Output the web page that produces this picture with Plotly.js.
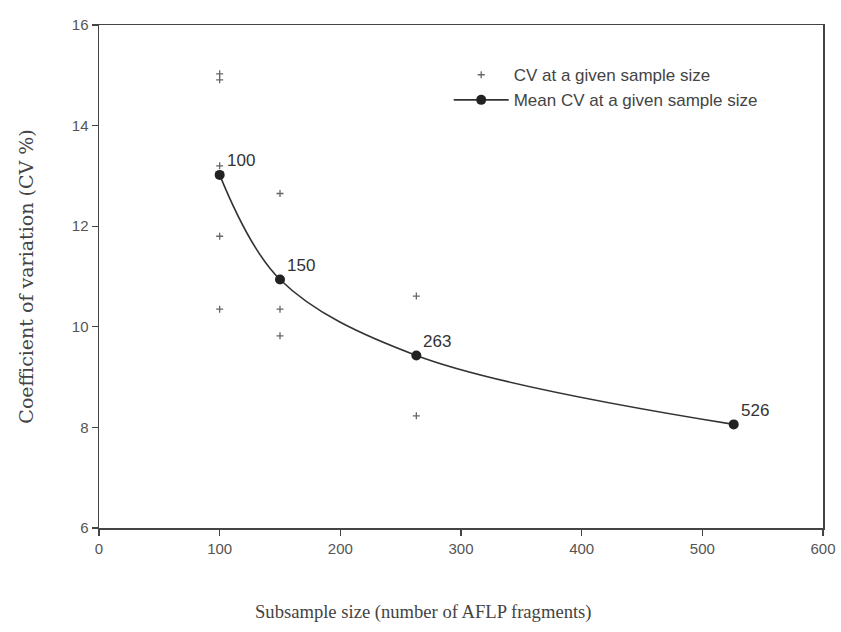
<!DOCTYPE html>
<html>
<head>
<meta charset="utf-8">
<script src="https://cdn.plot.ly/plotly-3.0.1.min.js"></script>
<style>html,body{margin:0;padding:0;background:#fff;}#chart{width:841px;height:632px;}</style>
</head>
<body>
<div id="chart"></div>
<script>
// Individual CV values at each subsample size
const cvX = [100, 100, 100, 100, 100, 150, 150, 150, 263, 263, 526];
const cvY = [15.03, 14.91, 13.2, 11.8, 10.35, 12.65, 10.35, 9.82, 10.61, 8.23, 8.05];
// Mean CV at each subsample size
const meanX = [100, 150, 263, 526];
const meanY = [13.02, 10.94, 9.43, 8.06];
const meanLabels = ["100", "150", "263", "526"];
const xTicks = [0, 100, 200, 300, 400, 500, 600];
const yTicks = [6, 8, 10, 12, 14, 16];
const xTitle = 'Subsample size (number of AFLP fragments)';
const yTitle = 'Coefficient of variation (CV %)';

const traces = [
  {
    x: cvX, y: cvY, type: 'scatter', mode: 'markers',
    name: 'CV at a given sample size',
    marker: {symbol: 'cross-thin', size: 5, color: '#666', line: {color: '#666', width: 1.3}}
  },
  {
    x: meanX, y: meanY, type: 'scatter', mode: 'lines+markers',
    name: 'Mean CV at a given sample size',
    line: {shape: 'spline', smoothing: 1, color: '#333', width: 1.6},
    marker: {symbol: 'circle', size: 10, color: '#222'}
  }
];

const annotations = meanX.map((x, i) => ({
  x: x, y: meanY[i], xref: 'x', yref: 'y', text: meanLabels[i],
  showarrow: false, xanchor: 'left', yanchor: 'middle', xshift: 5, yshift: 14,
  font: {family: 'Liberation Sans, Arial, sans-serif', size: 17, color: '#333'}
}));
annotations.push({
  x: (423 - 99) / 724, y: -84 / 503, xref: 'paper', yref: 'paper',
  text: xTitle, showarrow: false, xanchor: 'center', yanchor: 'middle',
  font: {family: 'Liberation Serif, Times New Roman, serif', size: 18.6, color: '#444'}
});

const layout = {
  width: 841, height: 632,
  margin: {l: 99, r: 18, t: 25, b: 104},
  paper_bgcolor: '#fff', plot_bgcolor: '#fff',
  showlegend: true,
  legend: {
    x: 0.483, y: 0.936, xanchor: 'left', yanchor: 'top',
    bgcolor: 'rgba(0,0,0,0)', itemwidth: 55,
    font: {family: 'Liberation Sans, Arial, sans-serif', size: 17, color: '#444'},
    tracegroupgap: 0
  },
  xaxis: {
    range: [0, 600], tickvals: xTicks, ticktext: xTicks.map(String),
    showgrid: false, zeroline: false,
    showline: true, linecolor: '#444', linewidth: 1.5, mirror: true,
    ticks: 'outside', ticklen: 6, tickcolor: '#444', tickwidth: 1.2,
    tickfont: {family: 'Liberation Sans, Arial, sans-serif', size: 15, color: '#555'}
  },
  yaxis: {
    range: [6, 16], tickvals: yTicks, ticktext: yTicks.map(String),
    showgrid: false, zeroline: false,
    showline: true, linecolor: '#444', linewidth: 1.5, mirror: true,
    ticks: 'outside', ticklen: 6, tickcolor: '#444', tickwidth: 1.2,
    tickfont: {family: 'Liberation Sans, Arial, sans-serif', size: 15, color: '#555'},
    title: {text: yTitle, standoff: 33,
      font: {family: 'DejaVu Serif, serif', size: 19, color: '#444'}}
  },
  annotations: annotations
};

Plotly.newPlot('chart', traces, layout, {displayModeBar: false, staticPlot: true});
</script>
</body>
</html>
